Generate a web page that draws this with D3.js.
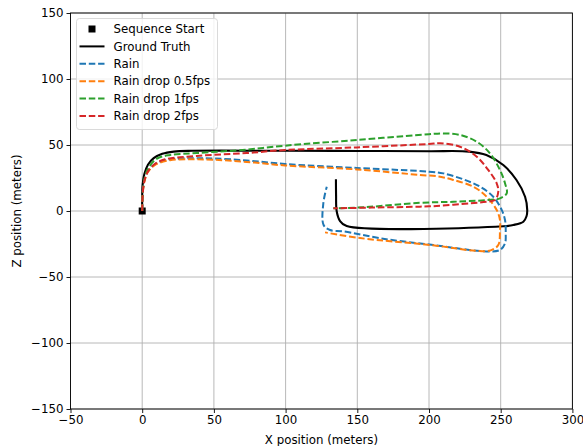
<!DOCTYPE html>
<html>
<head>
<meta charset="utf-8">
<script src="https://cdn.jsdelivr.net/npm/d3@7"></script>
<style>
  body { margin: 0; background: #fff; }
  svg { font-family: "DejaVu Sans", sans-serif; }
</style>
</head>
<body>
<svg id="chart" width="583" height="446"></svg>
<script>
// trajectories, [x, z] in meters
var groundTruth = [[0,0],[0,10],[0.3,20],[1.5,28],[4,35],[8,40],[14,43.3],[22,45],[35,45.6],[100,45.6],[150,45.5],[200,45.3],[228,45],[240,42.4],[251.8,34.8],[261,23.5],[267,10.8],[268.5,0.8],[268,-4],[265.8,-8.1],[258.8,-10.6],[251.8,-11.6],[142.6,-11.4],[137.9,-7.5],[135.6,0],[135.2,12],[135.1,24]];
var rain = [[0,0],[0.3,13],[1.5,23],[4,30],[9,35.5],[19.4,39],[35,40],[50,39.8],[72.9,38.3],[99.6,35.6],[149.6,32.6],[200,29.8],[210,28.5],[223.9,24],[235.6,18.4],[244.8,10.8],[250.7,0.8],[253,-6.8],[253.5,-16.9],[253,-24.5],[249.5,-29.5],[240.2,-30.6],[203,-25.8],[168,-21],[140.2,-15.4],[131,-14.4],[126.5,-10.6],[126.3,5.8],[128.7,18.4]];
var rainDrop05 = [[0,0],[0.3,12],[1.5,22],[4,29.5],[9,35],[19.4,38.5],[35,39.2],[50,38.8],[72.9,37.2],[99.6,34.5],[149.6,31.5],[193.7,27.3],[207.7,26],[217,23.5],[231,18.4],[240.2,10.8],[247.2,0.8],[249.5,-6.8],[249.5,-14.4],[248.3,-25.8],[243,-29.8],[233.3,-30.2],[203,-26],[151.9,-20.5],[127.5,-16.2]];
var rainDrop1 = [[0,0],[0.3,13],[1.5,24],[4,32],[10,39.5],[19.4,42.4],[38,43.9],[72.9,46.5],[99.6,49.5],[149.6,53.8],[200,58.2],[210,58.8],[221.6,57.6],[233.3,52.5],[242.5,43.7],[249.5,31],[253,21],[254.2,13.4],[249.5,9.6],[240.2,8.3],[217,7],[193.7,6.2],[156.5,3],[133.3,2]];
var rainDrop2 = [[0,0],[0.3,12],[1.5,23],[4,30],[9,35.8],[16,39.2],[38,41.7],[72.9,43.9],[99.6,46.2],[149.6,48.2],[200,50.8],[207.7,51.3],[221.6,48.7],[233.3,41.1],[241.4,31],[247.2,21],[248.3,14.6],[246,8.3],[240,7],[228.6,5.8],[205.4,3.8],[193.7,3.3],[160,2.6],[133.3,2]];
var startPoint = [[0,0]];

var xTicks = [-50, 0, 50, 100, 150, 200, 250, 300];
var yTicks = [-150, -100, -50, 0, 50, 100, 150];

var series = [
  {name: "Ground Truth", data: groundTruth, color: "#000000", dash: null},
  {name: "Rain", data: rain, color: "#1f77b4", dash: "6.5,2.8"},
  {name: "Rain drop 0.5fps", data: rainDrop05, color: "#ff7f0e", dash: "6.5,2.8"},
  {name: "Rain drop 1fps", data: rainDrop1, color: "#2ca02c", dash: "6.5,2.8"},
  {name: "Rain drop 2fps", data: rainDrop2, color: "#d62728", dash: "6.5,2.8"}
];

var svg = d3.select("#chart"),
  MARGINS = {top: 13, right: 10.6, bottom: 37, left: 70.5},
  WIDTH = 583,
  HEIGHT = 446;

var xScale = d3.scaleLinear()
  .domain([-50, 300])
  .range([MARGINS.left, WIDTH - MARGINS.right]);
var yScale = d3.scaleLinear()
  .domain([-150, 150])
  .range([HEIGHT - MARGINS.bottom, MARGINS.top]);

// grid
svg.append("g").selectAll("line").data(xTicks).join("line")
  .attr("x1", d => xScale(d)).attr("x2", d => xScale(d))
  .attr("y1", MARGINS.top).attr("y2", HEIGHT - MARGINS.bottom)
  .attr("stroke", "#b0b0b0").attr("stroke-width", 0.9);
svg.append("g").selectAll("line").data(yTicks).join("line")
  .attr("x1", MARGINS.left).attr("x2", WIDTH - MARGINS.right)
  .attr("y1", d => yScale(d)).attr("y2", d => yScale(d))
  .attr("stroke", "#b0b0b0").attr("stroke-width", 0.9);

var lineGen = d3.line()
  .x(d => xScale(d[0]))
  .y(d => yScale(d[1]))
  .curve(d3.curveCatmullRom.alpha(0.5));

var plot = svg.append("g");
plot.selectAll("rect.start").data(startPoint).join("rect")
  .attr("class", "start")
  .attr("x", d => xScale(d[0]) - 3.5)
  .attr("y", d => yScale(d[1]) - 3.5)
  .attr("width", 7).attr("height", 7)
  .attr("fill", "#000");

series.forEach(function (s) {
  plot.append("path")
    .attr("d", lineGen(s.data))
    .attr("fill", "none")
    .attr("stroke", s.color)
    .attr("stroke-width", s.dash ? 2 : 2.1)
    .attr("stroke-dasharray", s.dash);
});

// axes
var minus = d => d < 0 ? "\u2212" + Math.abs(d) : d;
var xAxis = d3.axisBottom(xScale).tickValues(xTicks).tickSize(4).tickPadding(3).tickFormat(minus);
var yAxis = d3.axisLeft(yScale).tickValues(yTicks).tickSize(4).tickPadding(3).tickFormat(minus);

var gx = svg.append("g")
  .attr("transform", "translate(0," + (HEIGHT - MARGINS.bottom) + ")")
  .call(xAxis);
var gy = svg.append("g")
  .attr("transform", "translate(" + MARGINS.left + ",0)")
  .call(yAxis);
[gx, gy].forEach(function (g) {
  g.select(".domain").remove();
  g.selectAll("line").attr("stroke", "#000").attr("stroke-width", 0.9);
  g.selectAll("text").attr("fill", "#000")
    .style("font-size", "11.8px").style("font-family", "DejaVu Sans");
});

// frame
svg.append("rect")
  .attr("x", MARGINS.left).attr("y", MARGINS.top)
  .attr("width", WIDTH - MARGINS.left - MARGINS.right)
  .attr("height", HEIGHT - MARGINS.top - MARGINS.bottom)
  .attr("fill", "none").attr("stroke", "#000").attr("stroke-width", 0.9);

svg.append("text")
  .attr("x", (MARGINS.left + WIDTH - MARGINS.right) / 2)
  .attr("y", 444)
  .style("text-anchor", "middle")
  .style("font-size", "11.8px")
  .text("X position (meters)");

svg.append("text")
  .attr("transform", "translate(21," + (MARGINS.top + HEIGHT - MARGINS.bottom) / 2 + ") rotate(-90)")
  .style("text-anchor", "middle")
  .style("font-size", "11.8px")
  .text("Z position (meters)");

// legend
var legend = svg.append("g").attr("transform", "translate(76.5,18.5)");
legend.append("rect")
  .attr("width", 141).attr("height", 111).attr("rx", 3)
  .attr("fill", "#fff").attr("fill-opacity", 0.8)
  .attr("stroke", "#d6d6d6").attr("stroke-width", 0.9);

var legendItems = [{name: "Sequence Start", marker: true}].concat(series);
var items = legend.selectAll("g.item").data(legendItems).join("g")
  .attr("class", "item")
  .attr("transform", (d, i) => "translate(0," + (10.5 + i * 17.4) + ")");
items.each(function (d) {
  var g = d3.select(this);
  if (d.marker) {
    g.append("rect").attr("x", 12).attr("y", -3.5).attr("width", 7).attr("height", 7).attr("fill", "#000");
  } else {
    g.append("line").attr("x1", 3).attr("x2", 28).attr("y1", 0).attr("y2", 0)
      .attr("stroke", d.color).attr("stroke-width", 2)
      .attr("stroke-dasharray", d.dash);
  }
  g.append("text").attr("x", 37).attr("y", 4.2)
    .style("font-size", "11.8px").text(d.name);
});
</script>
</body>
</html>
